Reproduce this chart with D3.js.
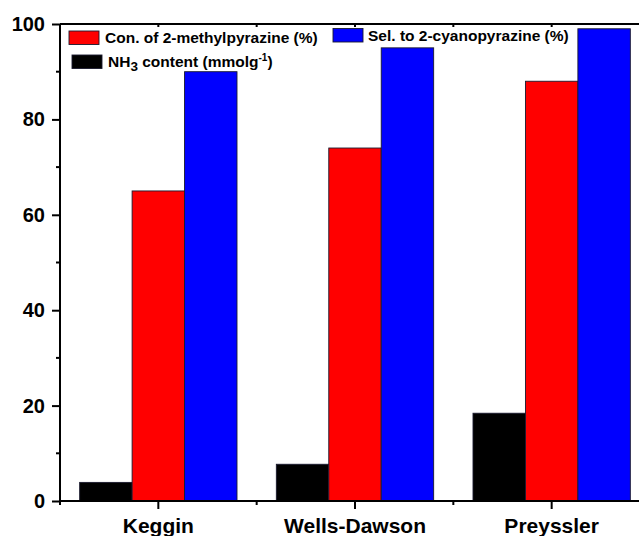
<!DOCTYPE html>
<html>
<head>
<meta charset="utf-8">
<script src="https://cdn.jsdelivr.net/npm/d3@7/dist/d3.min.js"></script>
<style>
  html, body { margin: 0; padding: 0; background: #fff; }
  svg { display: block; font-family: "Liberation Sans", Arial, sans-serif; font-weight: bold; }
</style>
</head>
<body>
<svg id="chart" width="639" height="536"></svg>
<script>
const categories = ["Keggin", "Wells-Dawson", "Preyssler"];
const seriesNames = ["NH3", "Con", "Sel"];
const nh3Content = [3.9, 7.7, 18.4];
const conversion = [65, 74, 88];
const selectivity = [90, 95, 99];
const yTicks = [0, 20, 40, 60, 80, 100];
const yMinorTicks = [10, 30, 50, 70, 90];
const colors = { NH3: "#000000", Con: "#ff0000", Sel: "#0000ff" };

(function () {
const svg = d3.select("#chart");
const mLeft = 60, mRight = 650, mTop = 24, mBottom = 501;

const x = d3.scaleBand().domain(categories).range([mLeft, mRight]).paddingInner(0.2).paddingOuter(0.1);
const xs = d3.scaleBand().domain(seriesNames).range([0, x.bandwidth()]);
const y = d3.scaleLinear().domain([0, 100]).range([mBottom, mTop]);

const seriesValues = { NH3: nh3Content, Con: conversion, Sel: selectivity };
const rows = [];
categories.forEach((c, i) => seriesNames.forEach(s => rows.push({ c, s, v: seriesValues[s][i] })));

svg.append("g").selectAll("rect").data(rows).join("rect")
  .attr("x", d => x(d.c) + xs(d.s))
  .attr("y", d => y(d.v))
  .attr("width", xs.bandwidth())
  .attr("height", d => y(0) - y(d.v))
  .attr("fill", d => colors[d.s])
  .attr("stroke", "#1a1a2e")
  .attr("stroke-width", 0.9);

// Left axis
const yAxis = d3.axisLeft(y).tickValues(yTicks).tickSize(8).tickPadding(7).tickFormat(d3.format("d"));
const gy = svg.append("g").attr("transform", `translate(${mLeft},0)`).call(yAxis);
gy.select(".domain").attr("stroke-width", 2).attr("d", `M0,${mBottom}V${mTop}`);
gy.selectAll(".tick line").attr("stroke-width", 2);
gy.selectAll(".tick text").attr("font-size", 20).attr("font-weight", "bold").attr("fill", "#000")
  .attr("font-family", "Liberation Sans, Arial, sans-serif");
svg.append("g").selectAll("line").data(yMinorTicks).join("line")
  .attr("x1", mLeft - 4).attr("x2", mLeft).attr("y1", d => y(d)).attr("y2", d => y(d))
  .attr("stroke", "#000").attr("stroke-width", 2);

// Bottom axis
const centers = categories.map(c => x(c) + x.bandwidth() / 2);
const step = x.step();
const minorX = [mLeft].concat(centers.slice(0, -1).map(c => c + step / 2));
const xAxis = d3.axisBottom(x).tickSize(8).tickPadding(9);
const gx = svg.append("g").attr("transform", `translate(0,${mBottom})`).call(xAxis);
gx.select(".domain").attr("stroke-width", 2).attr("d", `M${mLeft},0H639`);
gx.selectAll(".tick line").attr("stroke-width", 2);
gx.selectAll(".tick text").attr("font-size", 21).attr("font-weight", "bold").attr("fill", "#000")
  .attr("font-family", "Liberation Sans, Arial, sans-serif");
svg.append("g").selectAll("line").data(minorX).join("line")
  .attr("x1", d => d).attr("x2", d => d).attr("y1", mBottom).attr("y2", mBottom + 4)
  .attr("stroke", "#000").attr("stroke-width", 2);

// Top frame
svg.append("line").attr("x1", mLeft).attr("x2", 639).attr("y1", mTop).attr("y2", mTop)
  .attr("stroke", "#000").attr("stroke-width", 2);
svg.append("g").selectAll("line").data(centers.concat(minorX.slice(1))).join("line")
  .attr("x1", d => d).attr("x2", d => d).attr("y1", mTop).attr("y2", mTop + 3)
  .attr("stroke", "#000").attr("stroke-width", 2);

// Legend
const legend = svg.append("g").attr("font-size", 15.5).attr("font-weight", "bold");
const legendItems = [
  { s: "Con", rx: 69, ry: 31 },
  { s: "NH3", rx: 72, ry: 55 },
  { s: "Sel", rx: 333, ry: 28.5 }
];
legendItems.forEach(it => {
  legend.append("rect").attr("x", it.rx).attr("y", it.ry).attr("width", 30).attr("height", 13.5)
    .attr("fill", colors[it.s]).attr("stroke", "#1a1a2e").attr("stroke-width", 0.9);
});
legend.append("text").attr("x", 105).attr("y", 42.5).text("Con. of 2-methylpyrazine (%)");
legend.append("text").attr("x", 368).attr("y", 40.5).text("Sel. to 2-cyanopyrazine (%)");
const t = legend.append("text").attr("x", 108).attr("y", 67);
t.append("tspan").text("NH");
t.append("tspan").attr("dy", 4).attr("font-size", 13.5).text("3");
t.append("tspan").attr("dy", -4).text(" content (mmolg");
t.append("tspan").attr("dy", -6).attr("font-size", 10).text("-1");
t.append("tspan").attr("dy", 6).text(")");
})();
</script>
</body>
</html>
